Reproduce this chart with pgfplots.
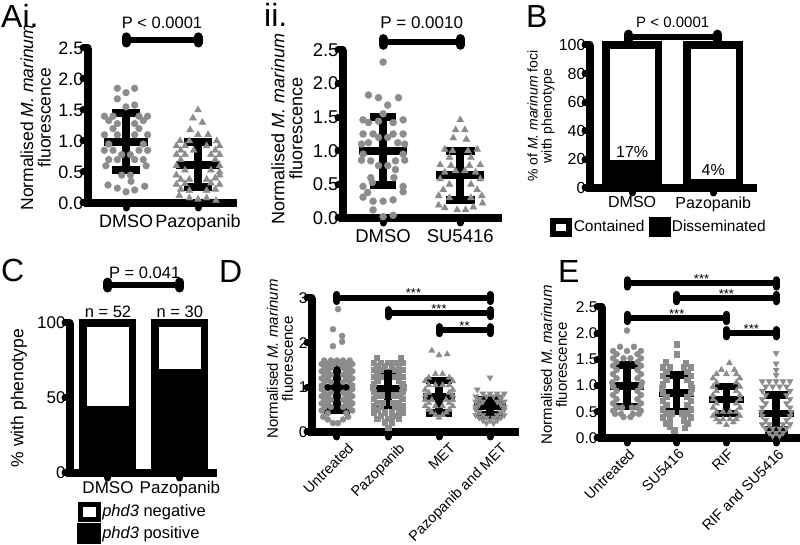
\documentclass[border=0pt]{standalone}
\usepackage{pgfplots}
\pgfplotsset{compat=1.18}
\usepackage{fontspec}
\setmainfont{Liberation Sans}
\definecolor{ptgray}{HTML}{8C8C8C}
\newcommand\fs[1]{\fontsize{#1}{#1}\selectfont}
\pgfplotsset{
  panel/.style={
    scale only axis, anchor=south west, clip=false,
    axis lines*=left,
    axis line style={line width=8pt, black, -},
    x axis line style={line cap=rect},
    tick align=outside, major tick length=5pt,
    major tick style={line width=7pt, black, line cap=round},
    /pgf/number format/assume math mode=true,
    ylabel style={align=center, anchor=center},
    yticklabel style={xshift=4pt},
  },
  pts/.style 2 args={only marks, mark=#1, mark size=#2, color=ptgray, mark options={draw=none, fill=ptgray}, forget plot},
  mb/.style={line width=#1, black, line cap=butt, forget plot},
  brk/.style={line width=#1, black, forget plot},
  brke/.style={line width=#1, black, line cap=round, forget plot},
}
\begin{document}
\begin{tikzpicture}[x=1pt,y=1pt]
\path[use as bounding box] (0,0) rectangle (800,545);
\node[anchor=base west, font=\fs{32}, inner sep=0] at (1,517) {Ai.};
\node[anchor=base west, font=\fs{32}, inner sep=0] at (264,518) {ii.};
\node[anchor=base west, font=\fs{32}, inner sep=0] at (526,517) {B};
\node[anchor=base west, font=\fs{32}, inner sep=0] at (1,263) {C};
\node[anchor=base west, font=\fs{32}, inner sep=0] at (219,262) {D};
\node[anchor=base west, font=\fs{32}, inner sep=0] at (558,262) {E};

% ---------------- Ai
\begin{axis}[panel, at={(88pt,342pt)}, width=145pt, height=155pt,
  xmin=0.472, xmax=2.486, ymin=0, ymax=2.5,
  ytick={0,0.5,1,1.5,2,2.5},
  /pgf/number format/fixed, /pgf/number format/fixed zerofill, /pgf/number format/precision=1,
  xtick={1,2}, xticklabels={DMSO,Pazopanib},
  tick label style={font=\fs{18}},
  xticklabel style={yshift=-3pt},
  ylabel={Normalised \textit{M. marinum}\\fluorescence},
  ylabel style={font=\fs{17.5}, at={(rel axis cs:-0.362,0.55)}}]
\addplot[pts={*}{3.4pt}] coordinates {
(0.88,1.85)(1.12,1.85)(1.0,1.78)(0.88,1.68)(1.12,1.58)(1.0,1.55)
(0.70,1.40)(0.82,1.40)(1.18,1.40)(1.30,1.40)
(0.76,1.33)(1.24,1.33)(0.88,1.28)(1.12,1.28)
(0.82,1.2)(1.18,1.2)
(0.70,1.1)(0.88,1.1)(1.12,1.1)(1.30,1.1)
(0.76,0.95)(1.24,0.95)
(0.70,0.85)(0.82,0.85)(1.18,0.85)(1.30,0.85)
(0.94,0.78)(1.06,0.78)
(0.76,0.7)(0.88,0.7)(1.12,0.7)(1.24,0.7)
(0.72,0.6)(1.28,0.6)
(0.94,0.45)(1.06,0.45)
(1.07,0.35)
(0.75,0.29)(0.88,0.24)(1.0,0.18)(1.12,0.21)(1.26,0.27)};
\addplot[pts={triangle*}{4pt}] coordinates {
(2.0,1.5)(1.93,1.37)(2.06,1.3)(1.89,1.18)(2.0,1.1)(2.14,1.1)
(1.75,1.0)(1.88,1.0)(2.26,1.0)
(1.70,0.92)(1.82,0.92)(2.12,0.92)(2.30,0.92)
(1.76,0.85)(1.94,0.85)(2.24,0.85)
(1.70,0.78)(1.82,0.78)(2.18,0.78)(2.30,0.78)
(1.76,0.7)(2.24,0.7)
(1.70,0.6)(2.30,0.6)
(1.82,0.53)(2.18,0.53)(2.30,0.5)
(1.70,0.45)(1.76,0.38)(2.24,0.4)(2.30,0.45)
(1.88,0.38)(2.12,0.38)
(1.82,0.31)(2.18,0.32)(2.30,0.3)(1.70,0.3)
(1.76,0.22)(2.24,0.22)(1.88,0.2)(2.12,0.2)
(1.74,0.12)
(1.88,0.08)(2.0,0.06)(2.12,0.08)(2.25,0.04)};
\addplot[mb=8pt] coordinates {(0.7,0.99) (1.3,0.99)};
\addplot[mb=8pt] coordinates {(1,0.53) (1,1.45)};
\addplot[mb=8pt] coordinates {(0.8,0.53) (1.2,0.53)};
\addplot[mb=8pt] coordinates {(0.8,1.45) (1.2,1.45)};
\addplot[mb=8pt] coordinates {(1.7,0.62) (2.3,0.62)};
\addplot[mb=8pt] coordinates {(2,0.25) (2,0.99)};
\addplot[mb=8pt] coordinates {(1.8,0.25) (2.2,0.25)};
\addplot[mb=8pt] coordinates {(1.8,0.99) (2.2,0.99)};
\addplot[brk=6.5pt] coordinates {(1,2.63) (2,2.63)};
\addplot[brke=9pt] coordinates {(1,2.58) (1,2.68)};
\addplot[brke=9pt] coordinates {(2,2.58) (2,2.68)};
\node[font=\fs{16.5}] at (1.5,2.9) {P < 0.0001};
\end{axis}

% ---------------- Aii
\begin{axis}[panel, at={(343pt,327pt)}, width=155pt, height=168pt,
  xmin=0.48, xmax=2.49, ymin=0, ymax=2.5,
  ytick={0,0.5,1,1.5,2,2.5},
  /pgf/number format/fixed, /pgf/number format/fixed zerofill, /pgf/number format/precision=1,
  xtick={1,2}, xticklabels={DMSO,SU5416},
  tick label style={font=\fs{18.5}},
  xticklabel style={yshift=-3pt},
  ylabel={Normalised \textit{M. marinum}\\fluorescence},
  ylabel style={font=\fs{18}, at={(rel axis cs:-0.361,0.53)}}]
\addplot[pts={*}{3.5pt}] coordinates {
(1.0,2.32)
(0.81,1.83)(0.94,1.79)(1.20,1.79)(1.06,1.68)
(0.74,1.46)(0.81,1.42)(0.94,1.44)(1.13,1.42)(1.26,1.46)(1.0,1.55)
(0.74,1.25)(0.87,1.25)(1.13,1.25)(1.26,1.25)(0.94,1.2)(1.06,1.2)
(0.72,1.1)(0.81,1.12)(1.19,1.12)(1.28,1.1)
(0.74,0.95)(1.26,0.95)
(0.72,0.86)(0.84,0.85)(1.16,0.85)(1.28,0.86)
(0.94,0.78)(1.06,0.78)(1.16,0.72)
(0.84,0.6)(0.86,0.53)(1.14,0.6)
(0.74,0.47)(1.26,0.47)
(0.8,0.38)
(0.74,0.31)(0.87,0.25)(1.0,0.25)(1.13,0.27)(1.26,0.39)
(0.87,0.12)(1.0,0.02)(1.13,0.04)};
\addplot[pts={triangle*}{4pt}] coordinates {
(2.0,1.46)(1.94,1.31)(2.06,1.31)(1.91,1.19)(2.08,1.17)
(1.80,1.02)(2.22,1.02)(1.9,1.0)(2.1,1.0)
(1.86,0.9)(2.14,0.9)
(1.74,0.79)(2.26,0.79)(1.88,0.78)(2.12,0.78)
(1.80,0.68)(2.20,0.68)(1.94,0.7)(2.06,0.7)
(1.74,0.58)(2.26,0.58)
(1.86,0.5)(2.14,0.5)
(1.78,0.42)(2.22,0.42)
(1.72,0.33)(2.28,0.33)(1.86,0.3)(2.14,0.3)
(1.72,0.19)(1.80,0.15)(1.96,0.12)(2.07,0.12)(2.17,0.16)(2.29,0.22)};
\addplot[mb=8pt] coordinates {(0.69,1.0) (1.31,1.0)};
\addplot[mb=8pt] coordinates {(1,0.49) (1,1.51)};
\addplot[mb=8pt] coordinates {(0.83,0.49) (1.17,0.49)};
\addplot[mb=8pt] coordinates {(0.83,1.51) (1.17,1.51)};
\addplot[mb=8pt] coordinates {(1.69,0.64) (2.31,0.64)};
\addplot[mb=8pt] coordinates {(2,0.27) (2,1.0)};
\addplot[mb=8pt] coordinates {(1.81,0.27) (2.19,0.27)};
\addplot[mb=8pt] coordinates {(1.81,1.0) (2.19,1.0)};
\addplot[brk=6.5pt] coordinates {(1,2.62) (2,2.62)};
\addplot[brke=9pt] coordinates {(1,2.57) (1,2.67)};
\addplot[brke=9pt] coordinates {(2,2.57) (2,2.67)};
\node[font=\fs{17}] at (1.5,2.9) {P = 0.0010};
\end{axis}

% ---------------- B
\begin{axis}[panel, at={(590pt,357pt)}, width=163pt, height=143pt,
  xmin=0.48, xmax=2.49, ymin=0, ymax=100,
  ytick={0,20,40,60,80,100},
  xtick={1,2}, xticklabels={DMSO,Pazopanib},
  tick label style={font=\fs{16}},
  ylabel={\% of \textit{M. marinum} foci\\with phenotype},
  ylabel style={font=\fs{14}, at={(rel axis cs:-0.30,0.503)}},
  legend columns=2, legend cell align=left,
  legend style={draw=none, fill=none, at={(rel axis cs:-0.245,-0.273)}, anchor=west, inner sep=0pt, font=\fs{15.5}, /tikz/every even column/.append style={column sep=3pt}, nodes={inner sep=1.5pt}}]
\addplot[ybar, bar width=52.5pt, fill=white, draw=black, line width=7.5pt, forget plot] coordinates {(1,100) (2,100)};
\addplot[ybar, bar width=52.5pt, fill=black, draw=black, line width=7.5pt, forget plot] coordinates {(1,17) (2,4)};
\addplot[brk=6.5pt] coordinates {(0.95,105.6) (2.05,105.6)};
\addplot[brke=9pt] coordinates {(0.95,103.4) (0.95,107.6)};
\addplot[brke=9pt] coordinates {(2.05,103.4) (2.05,107.6)};
\node[font=\fs{15}] at (1.5,116) {P < 0.0001};
\node[font=\fs{16}] at (1,25) {17\%};
\node[font=\fs{16}] at (2,12.6) {4\%};
\addlegendimage{legend image code/.code={\draw[black,line width=6pt,fill=white] (3pt,-6.5pt) rectangle (19pt,6.5pt);}}
\addlegendentry{Contained}
\addlegendimage{legend image code/.code={\fill[black] (0pt,-9.5pt) rectangle (21pt,9.5pt);}}
\addlegendentry{Disseminated}
\end{axis}

% ---------------- C
\begin{axis}[panel, at={(70pt,72pt)}, width=143pt, height=150pt,
  xmin=0.472, xmax=2.46, ymin=0, ymax=100,
  ytick={0,50,100},
  xtick={1,2}, xticklabels={DMSO,Pazopanib},
  tick label style={font=\fs{17}},
  ylabel={\% with phenotype},
  ylabel style={font=\fs{17.5}, at={(rel axis cs:-0.357,0.5)}},
  legend cell align=left,
  legend style={draw=none, fill=none, at={(rel axis cs:0.05,-0.19)}, anchor=north west, inner sep=0pt, font=\fs{16.5}, /tikz/row sep=1pt, nodes={inner sep=1.5pt}}]
\addplot[ybar, bar width=49.5pt, fill=white, draw=black, line width=7.5pt, forget plot] coordinates {(1,100) (2,100)};
\addplot[ybar, bar width=49.5pt, fill=black, draw=black, line width=7.5pt, forget plot] coordinates {(1,42.3) (2,66.7)};
\addplot[brk=6.5pt] coordinates {(1,125.3) (2,125.3)};
\addplot[brke=9pt] coordinates {(1,123.3) (1,127.3)};
\addplot[brke=9pt] coordinates {(2,123.3) (2,127.3)};
\node[font=\fs{16.5}] at (1.51,133.5) {P = 0.041};
\node[font=\fs{16.5}] at (1,107.5) {n = 52};
\node[font=\fs{16.5}] at (2,107.5) {n = 30};
\addlegendimage{legend image code/.code={\draw[black,line width=5pt,fill=white] (2.5pt,-7.5pt) rectangle (20.5pt,7.5pt);}}
\addlegendentry{\textit{phd3} negative}
\addlegendimage{legend image code/.code={\fill[black] (0pt,-10pt) rectangle (23pt,10pt);}}
\addlegendentry{\textit{phd3} positive}
\end{axis}

% ---------------- D
\begin{axis}[panel, at={(312pt,113pt)}, width=203pt, height=134pt,
  xmin=0.51, xmax=4.49, ymin=0, ymax=3,
  ytick={0,1,2,3},
  xtick={1,2,3,4}, xticklabels={Untreated,Pazopanib,MET,Pazopanib and MET},
  tick label style={font=\fs{15.5}},
  xticklabel style={font=\fs{14.5}, xshift=10pt, rotate=45, anchor=north east},
  ylabel={Normalised \textit{M. marinum}\\fluorescence},
  ylabel style={font=\fs{15}, at={(rel axis cs:-0.158,0.545)}}]
\addplot[pts={*}{3pt}] coordinates {
(1.02,2.75)(0.92,2.3)(1.1,2.15)(1.1,2.02)(0.92,1.92)
(0.75,1.6)(0.88,1.6)(1.0,1.6)(1.12,1.6)(1.25,1.6)
(0.7,1.52)(0.82,1.52)(0.94,1.52)(1.06,1.52)(1.18,1.52)(1.3,1.52)
(0.76,1.44)(0.88,1.44)(1.12,1.44)(1.24,1.44)
(0.7,1.36)(0.82,1.36)(1.18,1.36)(1.3,1.36)
(0.76,1.28)(0.88,1.28)(1.12,1.28)(1.24,1.28)
(0.7,1.2)(0.82,1.2)(1.18,1.2)(1.3,1.2)
(0.76,1.12)(0.88,1.12)(1.12,1.12)(1.24,1.12)
(0.7,1.04)(1.3,1.04)(0.7,0.96)(1.3,0.96)
(0.76,0.88)(0.88,0.88)(1.12,0.88)(1.24,0.88)
(0.7,0.8)(0.82,0.8)(1.18,0.8)(1.3,0.8)
(0.76,0.72)(0.88,0.72)(1.12,0.72)(1.24,0.72)
(0.7,0.64)(0.82,0.64)(1.18,0.64)(1.3,0.64)
(0.76,0.56)(0.88,0.56)(1.12,0.56)(1.24,0.56)
(0.7,0.48)(1.3,0.48)(0.82,0.42)(1.18,0.42)
(0.73,0.34)(1.22,0.34)(0.82,0.28)(1.12,0.28)(0.92,0.2)(1.02,0.2)};
\addplot[pts={square*}{2.7pt}] coordinates {
(1.78,1.66)(2.25,1.66)
(1.72,1.55)(1.86,1.55)(2.0,1.55)(2.14,1.55)(2.28,1.55)
(1.79,1.47)(1.93,1.47)(2.07,1.47)(2.21,1.47)
(1.72,1.4)(1.86,1.4)(2.14,1.4)(2.28,1.4)
(1.79,1.32)(2.21,1.32)
(1.72,1.24)(1.86,1.24)(2.14,1.24)(2.28,1.24)
(1.79,1.16)(2.21,1.16)(1.72,1.08)(2.28,1.08)(1.7,1.0)(2.3,1.0)(1.72,0.9)(2.28,0.9)
(1.76,0.82)(1.88,0.82)(2.12,0.82)(2.24,0.82)
(1.72,0.74)(2.28,0.74)
(1.79,0.66)(1.9,0.66)(2.1,0.66)(2.21,0.66)
(1.72,0.58)(1.86,0.58)(2.14,0.58)(2.28,0.58)
(1.79,0.5)(2.21,0.5)
(1.72,0.44)(1.93,0.44)(2.07,0.44)(2.28,0.44)
(1.86,0.36)(2.14,0.36)(1.79,0.3)(2.0,0.3)(2.21,0.3)
(1.93,0.22)(2.07,0.22)(2.0,0.1)};
\addplot[pts={triangle*}{3.5pt}] coordinates {
(2.86,1.82)(3.0,1.72)(3.16,1.74)
(2.93,1.3)(3.07,1.3)(2.8,1.22)(3.2,1.22)(2.73,1.14)(3.27,1.14)
(2.8,1.05)(2.93,1.05)(3.07,1.05)(3.2,1.05)
(2.73,0.95)(3.27,0.95)(2.8,0.88)(3.2,0.88)(2.73,0.82)(3.27,0.82)
(2.73,0.72)(2.86,0.72)(3.14,0.72)(3.27,0.72)
(2.8,0.65)(3.2,0.65)
(2.73,0.58)(2.93,0.58)(3.07,0.58)(3.27,0.58)
(2.8,0.5)(3.2,0.5)(2.86,0.44)(3.14,0.44)(2.93,0.38)(3.07,0.38)(3.0,0.32)};
\addplot[pts={triangle*}{3.5pt}, mark options={rotate=180}] coordinates {
(4.0,1.22)(3.75,0.95)
(3.86,0.86)(4.0,0.86)(4.14,0.86)(4.28,0.86)
(3.72,0.8)(3.93,0.8)(4.07,0.8)(4.21,0.8)
(3.79,0.74)(4.21,0.74)
(3.72,0.68)(3.86,0.68)(4.14,0.68)(4.28,0.68)
(3.79,0.62)(4.21,0.62)(3.72,0.56)(4.28,0.56)(3.72,0.5)(4.28,0.5)(3.79,0.44)(4.21,0.44)
(3.72,0.38)(3.86,0.38)(4.14,0.38)(4.28,0.38)
(3.79,0.32)(3.93,0.32)(4.07,0.32)(4.21,0.32)
(3.86,0.26)(4.0,0.26)(4.14,0.26)(3.93,0.2)(4.07,0.2)};
\addplot[mb=7.5pt] coordinates {(0.68,1.0) (1.32,1.0)};
\addplot[mb=7.5pt] coordinates {(1,0.49) (1,1.5)};
\addplot[mb=7.5pt] coordinates {(0.75,0.49) (1.25,0.49)};
\addplot[mb=7.5pt] coordinates {(0.75,1.5) (1.25,1.5)};
\addplot[mb=7.5pt] coordinates {(1.68,0.96) (2.32,0.96)};
\addplot[mb=7.5pt] coordinates {(2,0.59) (2,1.33)};
\addplot[mb=7.5pt] coordinates {(1.75,0.59) (2.25,0.59)};
\addplot[mb=7.5pt] coordinates {(1.75,1.33) (2.25,1.33)};
\addplot[mb=7.5pt] coordinates {(2.68,0.79) (3.32,0.79)};
\addplot[mb=7.5pt] coordinates {(3,0.42) (3,1.15)};
\addplot[mb=7.5pt] coordinates {(2.75,0.42) (3.25,0.42)};
\addplot[mb=7.5pt] coordinates {(2.75,1.15) (3.25,1.15)};
\addplot[mb=7.5pt] coordinates {(3.68,0.57) (4.32,0.57)};
\addplot[mb=7.5pt] coordinates {(4,0.38) (4,0.72)};
\addplot[mb=7.5pt] coordinates {(3.75,0.38) (4.25,0.38)};
\addplot[mb=7.5pt] coordinates {(3.75,0.72) (4.25,0.72)};
\addplot[brk=6pt] coordinates {(1,3.0) (4,3.0)};
\addplot[brke=7pt] coordinates {(1,2.92) (1,3.08)};
\addplot[brke=7pt] coordinates {(4,2.92) (4,3.08)};
\addplot[brk=6pt] coordinates {(2,2.66) (4,2.66)};
\addplot[brke=7pt] coordinates {(2,2.58) (2,2.74)};
\addplot[brke=7pt] coordinates {(4,2.58) (4,2.74)};
\addplot[brk=6pt] coordinates {(3,2.28) (4,2.28)};
\addplot[brke=7pt] coordinates {(3,2.2) (3,2.36)};
\addplot[brke=7pt] coordinates {(4,2.2) (4,2.36)};
\node[font=\fs{13}, anchor=base] at (2.5,3.0) {***};
\node[font=\fs{13}, anchor=base] at (3.0,2.66) {***};
\node[font=\fs{13}, anchor=base] at (3.5,2.28) {**};
\end{axis}

% ---------------- E
\begin{axis}[panel, at={(602pt,107pt)}, width=198pt, height=131pt,
  xmin=0.497, xmax=4.48, ymin=0, ymax=2.5,
  ytick={0,0.5,1,1.5,2,2.5},
  /pgf/number format/fixed, /pgf/number format/fixed zerofill, /pgf/number format/precision=1,
  xtick={1,2,3,4}, xticklabels={Untreated,SU5416,RIF,RIF and SU5416},
  tick label style={font=\fs{15.5}},
  xticklabel style={font=\fs{14.5}, xshift=1pt, rotate=45, anchor=north east},
  ylabel={Normalised \textit{M. marinum}\\fluorescence},
  ylabel style={font=\fs{15}, at={(rel axis cs:-0.242,0.557)}}]
\addplot[pts={*}{3pt}] coordinates {
(1.0,2.05)(0.86,1.74)(1.14,1.74)(0.72,1.66)(1.0,1.66)(1.28,1.66)
(0.79,1.6)(1.21,1.6)(0.72,1.52)(0.93,1.52)(1.07,1.52)(1.28,1.52)
(0.79,1.45)(1.21,1.45)(0.72,1.38)(1.28,1.38)(0.79,1.3)(1.21,1.3)
(0.72,1.22)(1.28,1.22)(0.79,1.14)(1.21,1.14)(0.7,1.06)(1.3,1.06)
(0.72,0.98)(1.28,0.98)(0.79,0.9)(1.21,0.9)(0.72,0.82)(1.28,0.82)
(0.79,0.74)(1.21,0.74)(0.72,0.66)(1.28,0.66)
(0.79,0.58)(0.9,0.58)(1.1,0.58)(1.21,0.58)(0.72,0.52)(1.28,0.52)
(0.76,0.46)(0.88,0.46)(1.12,0.46)(1.24,0.46)(0.93,0.4)(1.07,0.4)};
\addplot[pts={square*}{2.7pt}] coordinates {
(2.0,1.79)(2.0,1.6)(1.78,1.45)(2.18,1.43)
(1.72,1.35)(1.86,1.35)(2.14,1.35)(2.28,1.35)
(1.79,1.27)(2.21,1.27)(1.72,1.19)(2.28,1.19)(1.79,1.11)(2.21,1.11)
(1.72,1.03)(2.28,1.03)(1.7,0.95)(2.3,0.95)(1.72,0.87)(2.28,0.87)
(1.79,0.79)(2.21,0.79)(1.72,0.71)(2.28,0.71)(1.79,0.63)(2.21,0.63)
(1.72,0.55)(2.28,0.55)
(1.79,0.47)(1.9,0.47)(2.1,0.47)(2.21,0.47)
(1.72,0.4)(2.28,0.4)(1.86,0.34)(2.14,0.34)(1.79,0.28)(2.21,0.28)
(1.86,0.22)(2.16,0.2)(1.95,0.15)};
\addplot[pts={triangle*}{3.5pt}] coordinates {
(3.06,1.43)(2.9,1.3)(3.16,1.3)(2.8,1.22)(3.0,1.22)(3.2,1.22)
(2.73,1.14)(3.27,1.14)(2.8,1.06)(3.2,1.06)(2.73,0.98)(3.27,0.98)
(2.8,0.9)(3.2,0.9)(2.73,0.82)(3.27,0.82)(2.73,0.74)(3.27,0.74)
(2.8,0.66)(3.2,0.66)(2.73,0.58)(3.27,0.58)
(2.8,0.5)(2.93,0.5)(3.07,0.5)(3.2,0.5)(2.73,0.42)(3.27,0.42)
(2.8,0.36)(2.93,0.36)(3.07,0.36)(3.2,0.36)(2.86,0.3)(3.14,0.3)(3.0,0.25)};
\addplot[pts={triangle*}{3.5pt}, mark options={rotate=180}] coordinates {
(4.0,1.62)(4.0,1.42)(4.0,1.3)(4.0,1.2)
(3.72,1.08)(3.86,1.08)(4.0,1.08)(4.14,1.08)(4.28,1.08)
(3.79,0.98)(3.93,0.98)(4.07,0.98)(4.21,0.98)
(3.72,0.9)(4.28,0.9)(3.79,0.82)(4.21,0.82)(3.72,0.74)(4.28,0.74)
(3.79,0.66)(4.21,0.66)(3.72,0.58)(4.28,0.58)(3.7,0.5)(4.3,0.5)
(3.72,0.42)(4.28,0.42)(3.79,0.34)(4.21,0.34)
(3.72,0.26)(3.86,0.26)(4.14,0.26)(4.28,0.26)
(3.79,0.18)(3.93,0.18)(4.07,0.18)(4.21,0.18)
(3.86,0.1)(4.0,0.1)(4.14,0.1)(3.93,0.04)(4.07,0.04)};
\addplot[mb=7.5pt] coordinates {(0.65,0.99) (1.35,0.99)};
\addplot[mb=7.5pt] coordinates {(1,0.6) (1,1.39)};
\addplot[mb=7.5pt] coordinates {(0.77,0.6) (1.23,0.6)};
\addplot[mb=7.5pt] coordinates {(0.77,1.39) (1.23,1.39)};
\addplot[mb=7.5pt] coordinates {(1.65,0.86) (2.35,0.86)};
\addplot[mb=7.5pt] coordinates {(2,0.51) (2,1.2)};
\addplot[mb=7.5pt] coordinates {(1.77,0.51) (2.23,0.51)};
\addplot[mb=7.5pt] coordinates {(1.77,1.2) (2.23,1.2)};
\addplot[mb=7.5pt] coordinates {(2.65,0.73) (3.35,0.73)};
\addplot[mb=7.5pt] coordinates {(3,0.47) (3,0.98)};
\addplot[mb=7.5pt] coordinates {(2.77,0.47) (3.23,0.47)};
\addplot[mb=7.5pt] coordinates {(2.77,0.98) (3.23,0.98)};
\addplot[mb=7.5pt] coordinates {(3.65,0.47) (4.35,0.47)};
\addplot[mb=7.5pt] coordinates {(4,0.15) (4,0.82)};
\addplot[mb=7.5pt] coordinates {(3.77,0.15) (4.23,0.15)};
\addplot[mb=7.5pt] coordinates {(3.77,0.82) (4.23,0.82)};
\addplot[brk=6pt] coordinates {(1,2.95) (4,2.95)};
\addplot[brke=7pt] coordinates {(1,2.88) (1,3.02)};
\addplot[brke=7pt] coordinates {(4,2.88) (4,3.02)};
\addplot[brk=6pt] coordinates {(2,2.67) (4,2.67)};
\addplot[brke=7pt] coordinates {(2,2.6) (2,2.74)};
\addplot[brke=7pt] coordinates {(4,2.6) (4,2.74)};
\addplot[brk=6pt] coordinates {(1,2.29) (3,2.29)};
\addplot[brke=7pt] coordinates {(1,2.22) (1,2.36)};
\addplot[brke=7pt] coordinates {(3,2.22) (3,2.36)};
\addplot[brk=6pt] coordinates {(3,2.0) (4,2.0)};
\addplot[brke=7pt] coordinates {(3,1.93) (3,2.07)};
\addplot[brke=7pt] coordinates {(4,1.93) (4,2.07)};
\node[font=\fs{13}, anchor=base] at (2.5,2.95) {***};
\node[font=\fs{13}, anchor=base] at (3.0,2.67) {***};
\node[font=\fs{13}, anchor=base] at (2.0,2.29) {***};
\node[font=\fs{13}, anchor=base] at (3.5,2.0) {***};
\end{axis}
\end{tikzpicture}
\end{document}
